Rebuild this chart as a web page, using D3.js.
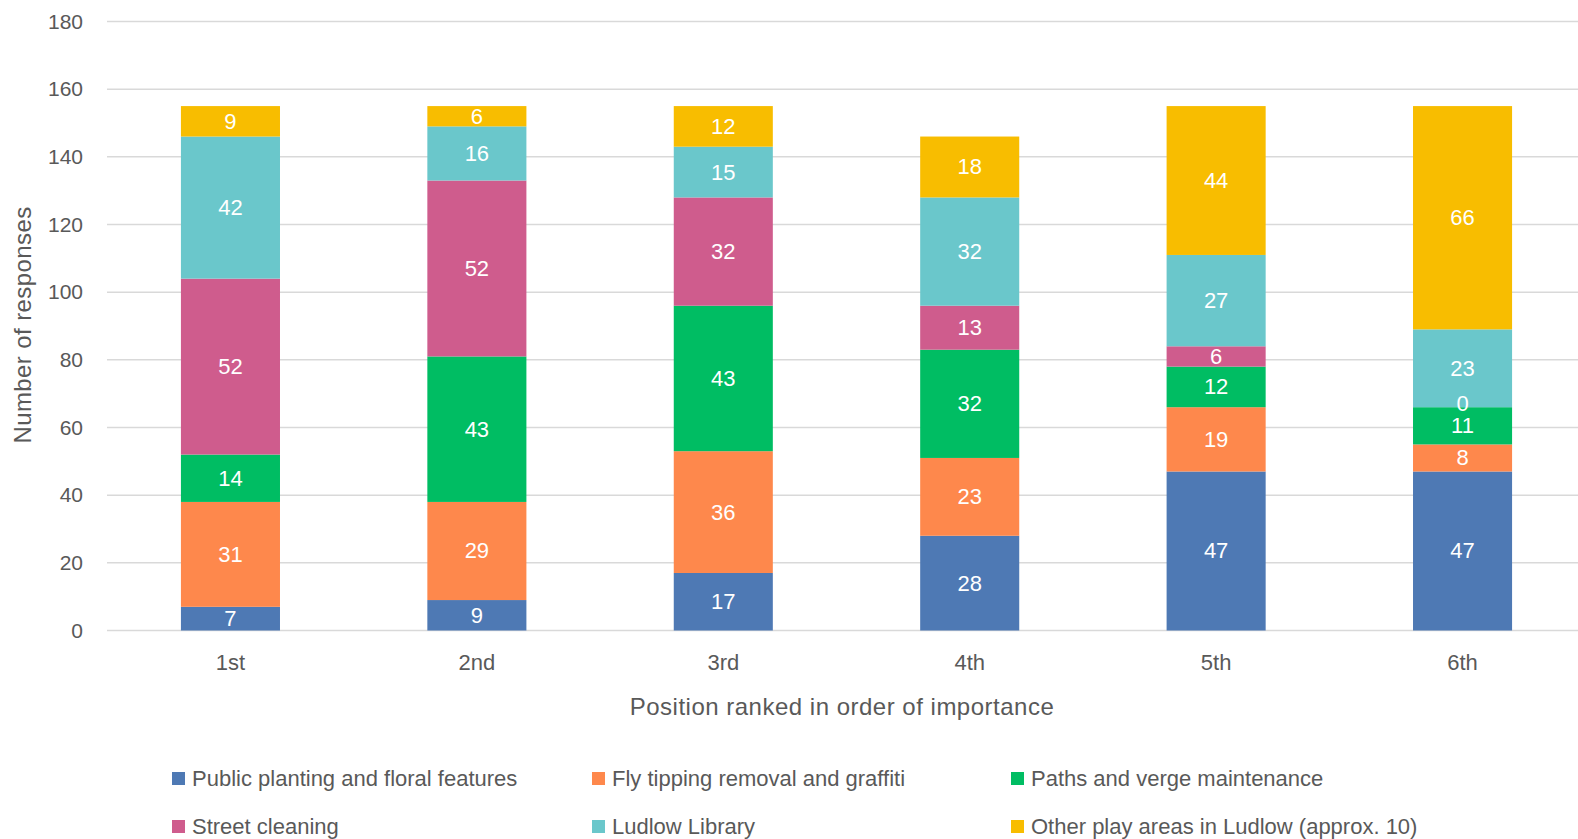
<!DOCTYPE html>
<html>
<head>
<meta charset="utf-8">
<script src="https://cdn.jsdelivr.net/npm/d3@7"></script>
<style>
  body { margin: 0; background: #fff; }
  svg { display: block; font-family: "Liberation Sans", Arial, sans-serif; }
</style>
</head>
<body>
<div id="chart"></div>
<script>
// Ranked positions along the x axis
const positions = ['1st', '2nd', '3rd', '4th', '5th', '6th'];

// One array per service, values per position (bottom to top of each stack)
const seriesNames = [
    'Public planting and floral features',
    'Fly tipping removal and graffiti',
    'Paths and verge maintenance',
    'Street cleaning',
    'Ludlow Library',
    'Other play areas in Ludlow (approx. 10)'
];
const publicPlanting = [7, 9, 17, 28, 47, 47];
const flyTipping     = [31, 29, 36, 23, 19, 8];
const pathsVerge     = [14, 43, 43, 32, 12, 11];
const streetCleaning = [52, 52, 32, 13, 6, 0];
const ludlowLibrary  = [42, 16, 15, 32, 27, 23];
const otherPlayAreas = [9, 6, 12, 18, 44, 66];

const yTicks = [0, 20, 40, 60, 80, 100, 120, 140, 160, 180];
const colors = ['#4E79B4', '#FE884C', '#00BD63', '#CF5C8D', '#6AC7CB', '#F8BD00'];

const W = 1578, H = 839;
const seriesValues = [publicPlanting, flyTipping, pathsVerge, streetCleaning, ludlowLibrary, otherPlayAreas];

// Build rows for d3.stack
const rows = positions.map((p, i) => {
    const row = { position: p };
    seriesNames.forEach((s, j) => { row[s] = seriesValues[j][i]; });
    return row;
});
const stacked = d3.stack().keys(seriesNames)(rows);

const svg = d3.select('#chart').append('svg')
    .attr('width', W)
    .attr('height', H);

// Scales
const x = d3.scaleBand()
    .domain(positions)
    .range([107, 1586])
    .paddingInner(0.598)
    .paddingOuter(0.3);

const y = d3.scaleLinear()
    .domain([0, 180])
    .range([630.5, 21.5]);

// Grid lines
svg.append('g')
    .selectAll('line')
    .data(yTicks)
    .join('line')
    .attr('x1', 107)
    .attr('x2', W)
    .attr('y1', d => y(d))
    .attr('y2', d => y(d))
    .attr('stroke', '#d9d9d9')
    .attr('stroke-width', 1.5);

// Y axis tick labels
svg.append('g')
    .attr('transform', 'translate(83,0)')
    .call(d3.axisLeft(y).tickValues(yTicks).tickSize(0).tickPadding(0))
    .call(g => g.select('.domain').remove())
    .selectAll('text')
    .style('font-size', '21px')
    .style('font-family', '"Liberation Sans", Arial, sans-serif')
    .attr('fill', '#595959');

// Stacked bars
svg.append('g')
    .selectAll('g')
    .data(stacked)
    .join('g')
    .attr('fill', (d, i) => colors[i])
    .selectAll('rect')
    .data(d => d)
    .join('rect')
    .attr('x', d => x(d.data.position))
    .attr('y', d => y(d[1]))
    .attr('width', x.bandwidth())
    .attr('height', d => y(d[0]) - y(d[1]));

// Value labels, drawn on top of every bar segment
const labelData = stacked.flatMap(s => s.map(v => ({ v, key: s.key })));
svg.append('g')
    .selectAll('text')
    .data(labelData)
    .join('text')
    .attr('x', d => x(d.v.data.position) + x.bandwidth() / 2)
    // nudge empty segments up a little so they don't sit on the label below
    .attr('y', d => (y(d.v[0]) + y(d.v[1])) / 2 - (d.v.data[d.key] === 0 ? 4 : 0))
    .attr('text-anchor', 'middle')
    .attr('dominant-baseline', 'central')
    .attr('fill', '#fff')
    .style('font-size', '22px')
    .text(d => d.v.data[d.key]);

// X axis category labels
svg.append('g')
    .attr('transform', 'translate(0,662)')
    .call(d3.axisBottom(x).tickSize(0).tickPadding(0))
    .call(g => g.select('.domain').remove())
    .selectAll('text')
    .attr('dy', null)
    .attr('dominant-baseline', 'central')
    .style('font-size', '22px')
    .style('font-family', '"Liberation Sans", Arial, sans-serif')
    .attr('fill', '#595959');

// Axis titles
svg.append('text')
    .attr('x', 842)
    .attr('y', 706)
    .attr('text-anchor', 'middle')
    .attr('dominant-baseline', 'central')
    .attr('fill', '#595959')
    .style('font-size', '24px')
    .style('letter-spacing', '0.5px')
    .text('Position ranked in order of importance');

svg.append('text')
    .attr('transform', 'translate(22,325) rotate(-90)')
    .attr('text-anchor', 'middle')
    .attr('dominant-baseline', 'central')
    .attr('fill', '#595959')
    .style('font-size', '24px')
    .style('letter-spacing', '0.4px')
    .text('Number of responses');

// Legend (3 columns x 2 rows)
const legendCols = [172, 592, 1011];
const legendRows = [778, 826];
const legend = svg.append('g')
    .selectAll('g')
    .data(seriesNames)
    .join('g')
    .attr('transform', (d, i) => `translate(${legendCols[i % 3]},${legendRows[Math.floor(i / 3)]})`);

legend.append('rect')
    .attr('x', 0)
    .attr('y', -6)
    .attr('width', 13)
    .attr('height', 13)
    .attr('fill', (d, i) => colors[i]);

legend.append('text')
    .attr('x', 20)
    .attr('y', 0)
    .attr('dominant-baseline', 'central')
    .attr('fill', '#595959')
    .style('font-size', '22px')
    .text(d => d);
</script>
</body>
</html>
